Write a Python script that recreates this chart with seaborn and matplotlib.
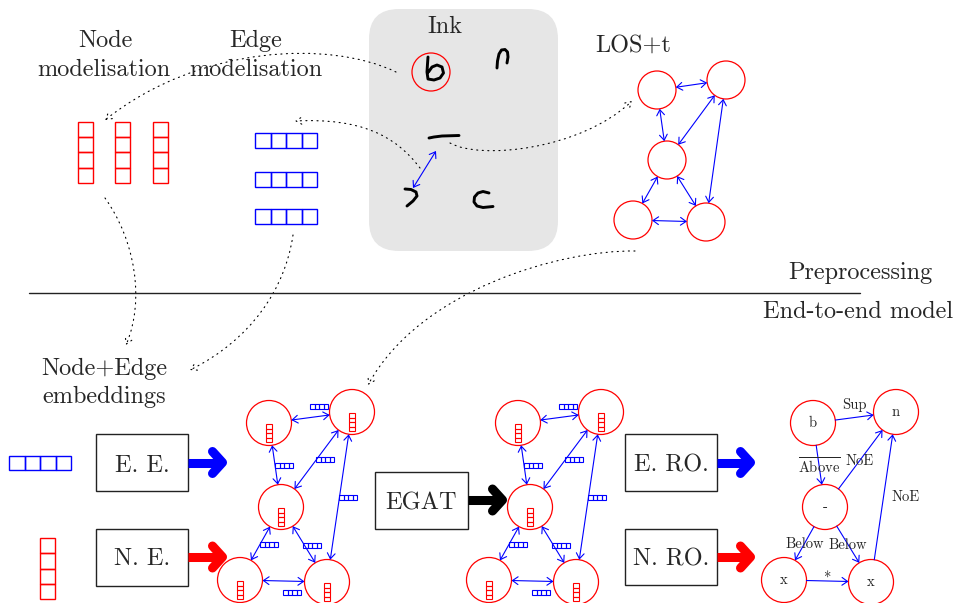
import numpy as np
import matplotlib.pyplot as plt
import seaborn as sns
from matplotlib.patches import Circle, Rectangle, FancyBboxPatch, FancyArrowPatch
from matplotlib.path import Path

sns.set_theme(style="white")
plt.rcParams['font.family'] = ['cmr10', 'DejaVu Serif']
plt.rcParams['mathtext.fontset'] = 'cm'
plt.rcParams['axes.formatter.use_mathtext'] = True

RED = '#ff0000'
BLUE = '#0000ff'

# --- texts (label, x, baseline y) ---
big_labels = ["Node", "modelisation", "Edge", "modelisation", "Ink", "LOS+t",
              "Preprocessing", "End-to-end model", "Node+Edge", "embeddings"]
big_x = [105, 104, 256, 256, 445, 633, 860, 858, 104, 104]
big_y = [47, 75.5, 47, 75.5, 33, 51.5, 279, 318, 375, 403]

# --- processing blocks ---
block_labels = ["E. E.", "N. E.", "EGAT", "E. RO.", "N. RO."]
block_x0 = [96, 96, 375, 625, 625]
block_y0 = [434, 529, 472, 434, 529]
block_w = [92, 92, 93, 92, 92]
block_h = [57, 57, 57, 57, 56]
block_base = [471.5, 565, 509, 472, 565]

# --- thick arrows out of the blocks ---
thick_x0 = [188, 188, 468, 717, 717]
thick_tip = [227, 227, 507, 755, 755]
thick_y = [462.5, 557, 500, 462.5, 557]
thick_col = [BLUE, RED, 'black', BLUE, RED]

# --- LOS+t graph (preprocessing) ---
los_x = [657, 726, 667, 633, 706]
los_y = [90, 80, 160, 220, 222]
los_r = 19
edges = [(0, 1), (0, 2), (1, 2), (1, 4), (2, 3), (2, 4), (3, 4)]

# --- end-to-end graphs: one layout, three copies ---
node_x = [269, 352, 281, 240, 327]
node_y = [423, 412, 507, 580, 582]
node_r = 22.5
graph_shift = [0, 249, 544]
emb_x = [310, 275, 316, 339, 260, 303, 283]
emb_y = [404, 463, 457, 495, 542, 543, 590]

# readout graph
ro_nodes = ["b", "n", "-", "x", "x"]
ro_edges = [(0, 1), (0, 2), (2, 1), (4, 1), (2, 3), (2, 4), (3, 4)]
ro_labels = ["Sup", r"$\overline{\mathrm{Above}}$", "NoE", "NoE", "Below", "Below", "*"]
ro_lab_x = [854, 819, 860, 906, 805, 848, 828]
ro_lab_y = [405, 467, 461, 497, 544, 545, 580]

# --- feature vectors in the top left ---
node_feat_x = [78, 115, 153]
node_feat_top = 122
edge_feat_left = 255
edge_feat_y = [133, 172, 209]

# --- ink strokes ---
ink_strokes = [
    [(428, 57), (427.5, 64), (427, 72), (428, 79), (434, 80), (440, 78), (443.5, 73),
     (442, 67), (437, 65), (432, 67), (428.5, 72)],
    [(497, 68), (497.5, 61), (499, 54), (501.5, 50), (505, 49.5), (507.5, 52), (508, 57), (507, 63)],
    [(429, 138), (434, 137), (442, 136), (459, 135.5)],
    [(405, 189), (411, 189.5), (416, 192), (417, 196), (413, 201), (407, 206)],
    [(489, 193), (483, 191.5), (478, 193), (474.5, 197), (474, 202), (477, 206),
     (483, 207.5), (493, 206.5)],
]

# --- dotted links (cubic bezier: start, c1, c2, end) ---
links = [
    [(396, 72), (330, 40), (200, 45), (105, 120)],
    [(420, 168), (395, 135), (360, 118), (295, 121)],
    [(450, 143), (480, 160), (580, 150), (632, 101)],
    [(635, 251), (560, 250), (420, 290), (368, 385)],
    [(105, 198), (135, 240), (145, 300), (126, 345)],
    [(293, 235), (285, 290), (250, 340), (190, 370)],
]

fig = plt.figure(figsize=(9.57, 6.03), dpi=100)
ax = fig.add_axes([0, 0, 1, 1])
ax.set_xlim(0, 957)
ax.set_ylim(603, 0)
ax.axis('off')


def stack(x, y, w, h, n, horizontal, color, lw):
    for i in range(n):
        xi = x + i * w if horizontal else x
        yi = y if horizontal else y + i * h
        ax.add_patch(Rectangle((xi, yi), w, h, fill=False, ec=color, lw=lw))


def link_arrows(xs, ys, r, pairs, style):
    for a, b in pairs:
        p = np.array([xs[a], ys[a]], float)
        q = np.array([xs[b], ys[b]], float)
        d = (q - p) / np.linalg.norm(q - p)
        ax.add_patch(FancyArrowPatch(p + d * r, q - d * r, arrowstyle=style,
                                     mutation_scale=8, color=BLUE, lw=0.8,
                                     shrinkA=0, shrinkB=0))


# ink panel
ax.add_patch(FancyBboxPatch((369, 9), 189, 242, boxstyle='round,pad=0,rounding_size=30',
                            fc='#e6e6e6', ec='none'))
for s in ink_strokes:
    s = np.array(s)
    ax.plot(s[:, 0], s[:, 1], color='black', lw=2.1,
            solid_capstyle='round', solid_joinstyle='round')
ax.add_patch(Circle((431, 72), 19, fill=False, ec=RED, lw=0.9))
ax.add_patch(FancyArrowPatch((436, 151), (413, 188), arrowstyle='<->,head_length=0.5,head_width=0.35',
                             mutation_scale=8, color=BLUE, lw=0.8, shrinkA=0, shrinkB=0))

# feature vectors
for x in node_feat_x:
    stack(x, node_feat_top, 15, 15.2, 4, False, RED, 1.0)
for y in edge_feat_y:
    stack(edge_feat_left, y, 15.5, 15, 4, True, BLUE, 1.0)
stack(9, 456, 15.5, 14, 4, True, BLUE, 1.0)
stack(40, 538, 15, 15.3, 4, False, RED, 1.0)

# LOS+t graph
for x, y in zip(los_x, los_y):
    ax.add_patch(Circle((x, y), los_r, fill=False, ec=RED, lw=0.9))
link_arrows(los_x, los_y, los_r, edges, '<->,head_length=0.5,head_width=0.35')

# separator
ax.plot([29, 860], [293, 293], color='#222222', lw=1.0)

# dotted links
for pts in links:
    path = Path(pts, [Path.MOVETO, Path.CURVE4, Path.CURVE4, Path.CURVE4])
    ax.add_patch(FancyArrowPatch(path=path, arrowstyle='->,head_length=0.4,head_width=0.25',
                                 mutation_scale=10, color='black', lw=0.8,
                                 linestyle=(0, (1, 4))))

# end-to-end graphs
for g, dx in enumerate(graph_shift):
    gx = [x + dx for x in node_x]
    for x, y in zip(gx, node_y):
        ax.add_patch(Circle((x, y), node_r, fill=False, ec=RED, lw=0.9))
    if g < 2:
        link_arrows(gx, node_y, node_r, edges, '<->,head_length=0.5,head_width=0.35')
        for x, y in zip(gx, node_y):
            stack(x - 3, y + 1, 6, 4.6, 4, False, RED, 0.8)
        for x, y in zip(emb_x, emb_y):
            stack(x + dx, y, 4.5, 5, 4, True, BLUE, 0.8)
    else:
        link_arrows(gx, node_y, node_r, ro_edges, '->,head_length=0.5,head_width=0.35')
        for lab, x, y in zip(ro_nodes, gx, node_y):
            ax.text(x, y, lab, fontsize=10.5, ha='center', va='center')
        for lab, x, y in zip(ro_labels, ro_lab_x, ro_lab_y):
            ax.text(x, y, lab, fontsize=10.5, ha='center', va='center')

# blocks and their arrows
for lab, x0, y0, w, h, yb in zip(block_labels, block_x0, block_y0, block_w, block_h, block_base):
    ax.add_patch(Rectangle((x0, y0), w, h, fill=False, ec='#222222', lw=1.0))
    ax.text(x0 + w / 2, yb, lab, fontsize=17.5, ha='center', va='baseline')
for x0, tip, y, c in zip(thick_x0, thick_tip, thick_y, thick_col):
    ax.plot([x0, tip - 6], [y, y], color=c, lw=6.5, solid_capstyle='butt')
    ax.plot([tip - 14.5, tip - 4.5, tip - 14.5], [y - 11, y, y + 11], color=c, lw=6.5,
            solid_capstyle='round', solid_joinstyle='round')

# labels
for lab, x, y in zip(big_labels, big_x, big_y):
    ax.text(x, y, lab, fontsize=17.5, ha='center', va='baseline')

plt.savefig('out.png', dpi=100)
